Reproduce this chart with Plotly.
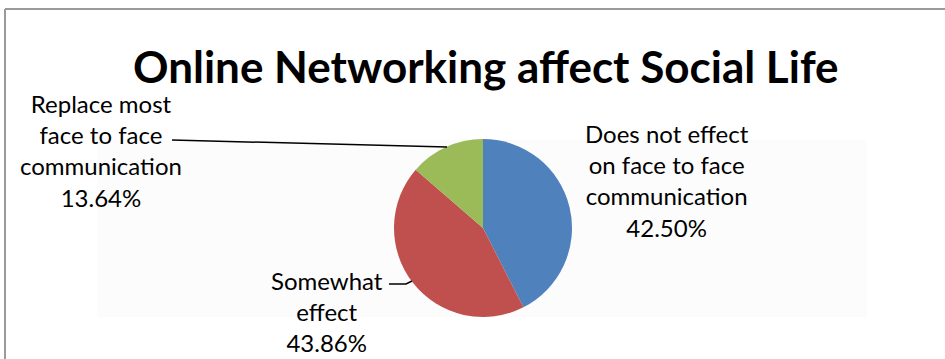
import plotly.graph_objects as go

W, H = 945, 359

# Survey results
labels = ["Does not effect on face to face communication",
          "Somewhat effect",
          "Replace most face to face communication"]
label_lines = [["Does not effect", "on face to face", "communication"],
               ["Somewhat", "effect"],
               ["Replace most", "face to face", "communication"]]
values = [42.50, 43.86, 13.64]
colors = ["#4F81BD", "#C0504D", "#9BBB59"]
title_text = "Online Networking affect Social Life"


def px(x):
    return x / W


def py(y):
    return 1 - y / H


cx, cy, r = 483, 228, 89

fig = go.Figure()
fig.add_trace(go.Pie(
    labels=labels,
    values=values,
    marker=dict(colors=colors, line=dict(width=0)),
    sort=False,
    direction="clockwise",
    rotation=0,
    textinfo="none",
    hoverinfo="label+percent",
    showlegend=False,
    domain=dict(x=[px(cx - r), px(cx + r)], y=[py(cy + r), py(cy - r)]),
))

font = dict(family="Lato, Carlito, Calibri, sans-serif", size=24, color="#000000")

# label text: name lines + value line
label_pos = [(667, 180), (327, 311), (101, 150)]
annotations = []
for lines, v, (x, y) in zip(label_lines, values, label_pos):
    txt = "<br>".join(lines + [f"{v:.2f}%"])
    annotations.append(dict(
        x=px(x), y=py(y), xref="paper", yref="paper",
        text=txt, showarrow=False, align="center",
        xanchor="center", yanchor="middle", font=font,
    ))

annotations.append(dict(
    x=px(486), y=py(66), xref="paper", yref="paper",
    text="<b>" + title_text + "</b>", showarrow=False,
    xanchor="center", yanchor="middle",
    font=dict(family="Lato, Carlito, Calibri, sans-serif", size=44, color="#000000"),
))

shapes = [
    # faint plot-area background
    dict(type="rect", xref="paper", yref="paper", layer="below",
         x0=px(97), x1=px(867), y0=py(317), y1=py(140),
         fillcolor="#fcfcfc", line=dict(width=0)),
    # chart border (top and left edges)
    dict(type="line", xref="paper", yref="paper",
         x0=px(5), x1=px(W + 5), y0=py(9), y1=py(9),
         line=dict(color="#9a9a9a", width=2)),
    dict(type="line", xref="paper", yref="paper",
         x0=px(5), x1=px(5), y0=py(9), y1=py(H + 5),
         line=dict(color="#9a9a9a", width=2)),
    # leader lines
    dict(type="line", xref="paper", yref="paper",
         x0=px(172), x1=px(447), y0=py(140), y1=py(147),
         line=dict(color="#000000", width=1.5)),
    dict(type="path", xref="paper", yref="paper",
         path=f"M {px(389)},{py(284)} L {px(406)},{py(284)} L {px(412)},{py(281)}",
         line=dict(color="#000000", width=1.5)),
]

fig.update_layout(
    width=W, height=H,
    margin=dict(l=0, r=0, t=0, b=0),
    paper_bgcolor="#ffffff",
    plot_bgcolor="#ffffff",
    annotations=annotations,
    shapes=shapes,
)

fig.write_html("out.html")
